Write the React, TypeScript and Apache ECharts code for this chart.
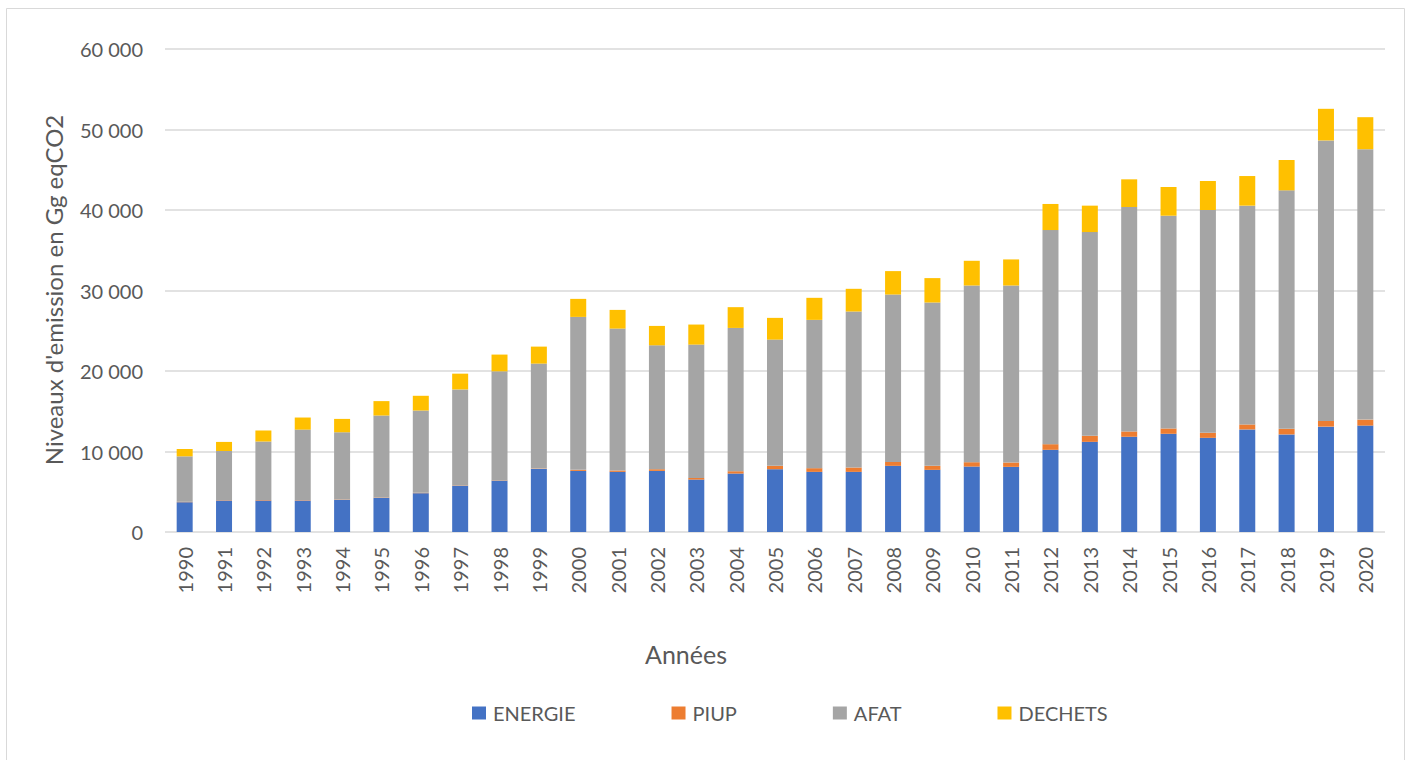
import React, { useEffect, useRef } from "react";
import * as echarts from "echarts";

// Émissions par secteur, en Gg eqCO2
const years = [
  "1990", "1991", "1992", "1993", "1994", "1995", "1996", "1997", "1998", "1999",
  "2000", "2001", "2002", "2003", "2004", "2005", "2006", "2007", "2008", "2009",
  "2010", "2011", "2012", "2013", "2014", "2015", "2016", "2017", "2018", "2019",
  "2020",
];

const energie = [
  3700, 3910, 3910, 3910, 3990, 4240, 4820, 5740, 6360, 7830,
  7590, 7470, 7590, 6510, 7260, 7800, 7470, 7470, 8220, 7720,
  8130, 8090, 10210, 11200, 11830, 12200, 11700, 12740, 12120, 13090,
  13220,
];

const piup = [
  50, 50, 50, 50, 50, 50, 50, 50, 50, 50,
  130, 170, 210, 210, 290, 420, 460, 540, 490, 500,
  540, 540, 700, 750, 660, 660, 620, 620, 700, 700,
  740,
];

const afat = [
  5650, 6100, 7270, 8760, 8350, 10180, 10220, 11920, 13550, 13040,
  19000, 17630, 15390, 16560, 17800, 15680, 18420, 19380, 20790, 20290,
  21950, 21990, 26600, 25310, 27880, 26430, 27680, 27180, 29620, 34850,
  33590,
];

const dechets = [
  910, 1130, 1370, 1500, 1660, 1790, 1830, 1960, 2080, 2110,
  2240, 2320, 2410, 2490, 2580, 2700, 2740, 2820, 2910, 3030,
  3070, 3240, 3240, 3280, 3440, 3570, 3600, 3680, 3770, 3930,
  3980,
];

const seriesDefs = [
  { name: "ENERGIE", data: energie, color: "#4472C4" },
  { name: "PIUP", data: piup, color: "#ED7D31" },
  { name: "AFAT", data: afat, color: "#A5A5A5" },
  { name: "DECHETS", data: dechets, color: "#FFC000" },
];

const FONT = "Lato, 'Open Sans', sans-serif";
const TEXT = "#595959";
const GRID = "#D9D9D9";

const fmt = (v: number) =>
  String(v).replace(/\B(?=(\d{3})+(?!\d))/g, " ");

export default function App() {
  const ref = useRef<HTMLDivElement>(null);

  useEffect(() => {
    if (!ref.current) return;
    const chart = echarts.init(ref.current, undefined, { renderer: "svg" });

    chart.setOption({
      animation: false,
      backgroundColor: "#FFFFFF",
      textStyle: { fontFamily: FONT },
      grid: { left: 165, right: 23, top: 49, bottom: 228, containLabel: false },
      legend: {
        left: 467,
        top: 698,
        itemWidth: 14,
        itemHeight: 13,
        itemGap: 96,
        icon: "rect",
        textStyle: { color: TEXT, fontSize: 20, fontFamily: FONT, padding: [0, 0, 0, 2] },
        data: seriesDefs.map((s) => s.name),
      },
      xAxis: {
        type: "category",
        data: years,
        axisTick: { show: false },
        axisLine: { show: false },
        axisLabel: {
          rotate: 90,
          margin: 15,
          color: TEXT,
          fontSize: 20,
          fontFamily: FONT,
          interval: 0,
        },
      },
      yAxis: {
        type: "value",
        min: 0,
        max: 60000,
        interval: 10000,
        axisLine: { show: false },
        axisTick: { show: false },
        splitLine: { lineStyle: { color: GRID, width: 1.5 } },
        axisLabel: {
          margin: 22,
          color: TEXT,
          fontSize: 20,
          fontFamily: FONT,
          formatter: fmt,
        },
      },
      graphic: [
        {
          type: "rect",
          silent: true,
          shape: { x: 6.5, y: 8.5, width: 1398, height: 800 },
          style: { fill: "none", stroke: GRID, lineWidth: 1 },
        },
        {
          type: "text",
          x: 53,
          y: 290,
          rotation: Math.PI / 2,
          style: {
            text: "Niveaux d'emission en Gg eqCO2",
            fill: TEXT,
            font: `24px ${FONT}`,
            align: "center",
            verticalAlign: "middle",
          },
        },
        {
          type: "text",
          x: 686,
          y: 654,
          style: {
            text: "Années",
            fill: TEXT,
            font: `25px ${FONT}`,
            align: "center",
            verticalAlign: "middle",
          },
        },
      ],
      series: seriesDefs.map((s) => ({
        name: s.name,
        type: "bar",
        stack: "total",
        barWidth: 16,
        data: s.data,
        itemStyle: { color: s.color },
      })),
    });

    return () => chart.dispose();
  }, []);

  return (
    <div
      ref={ref}
      style={{ position: "absolute", left: 0, top: 0, width: 1408, height: 760 }}
    />
  );
}
